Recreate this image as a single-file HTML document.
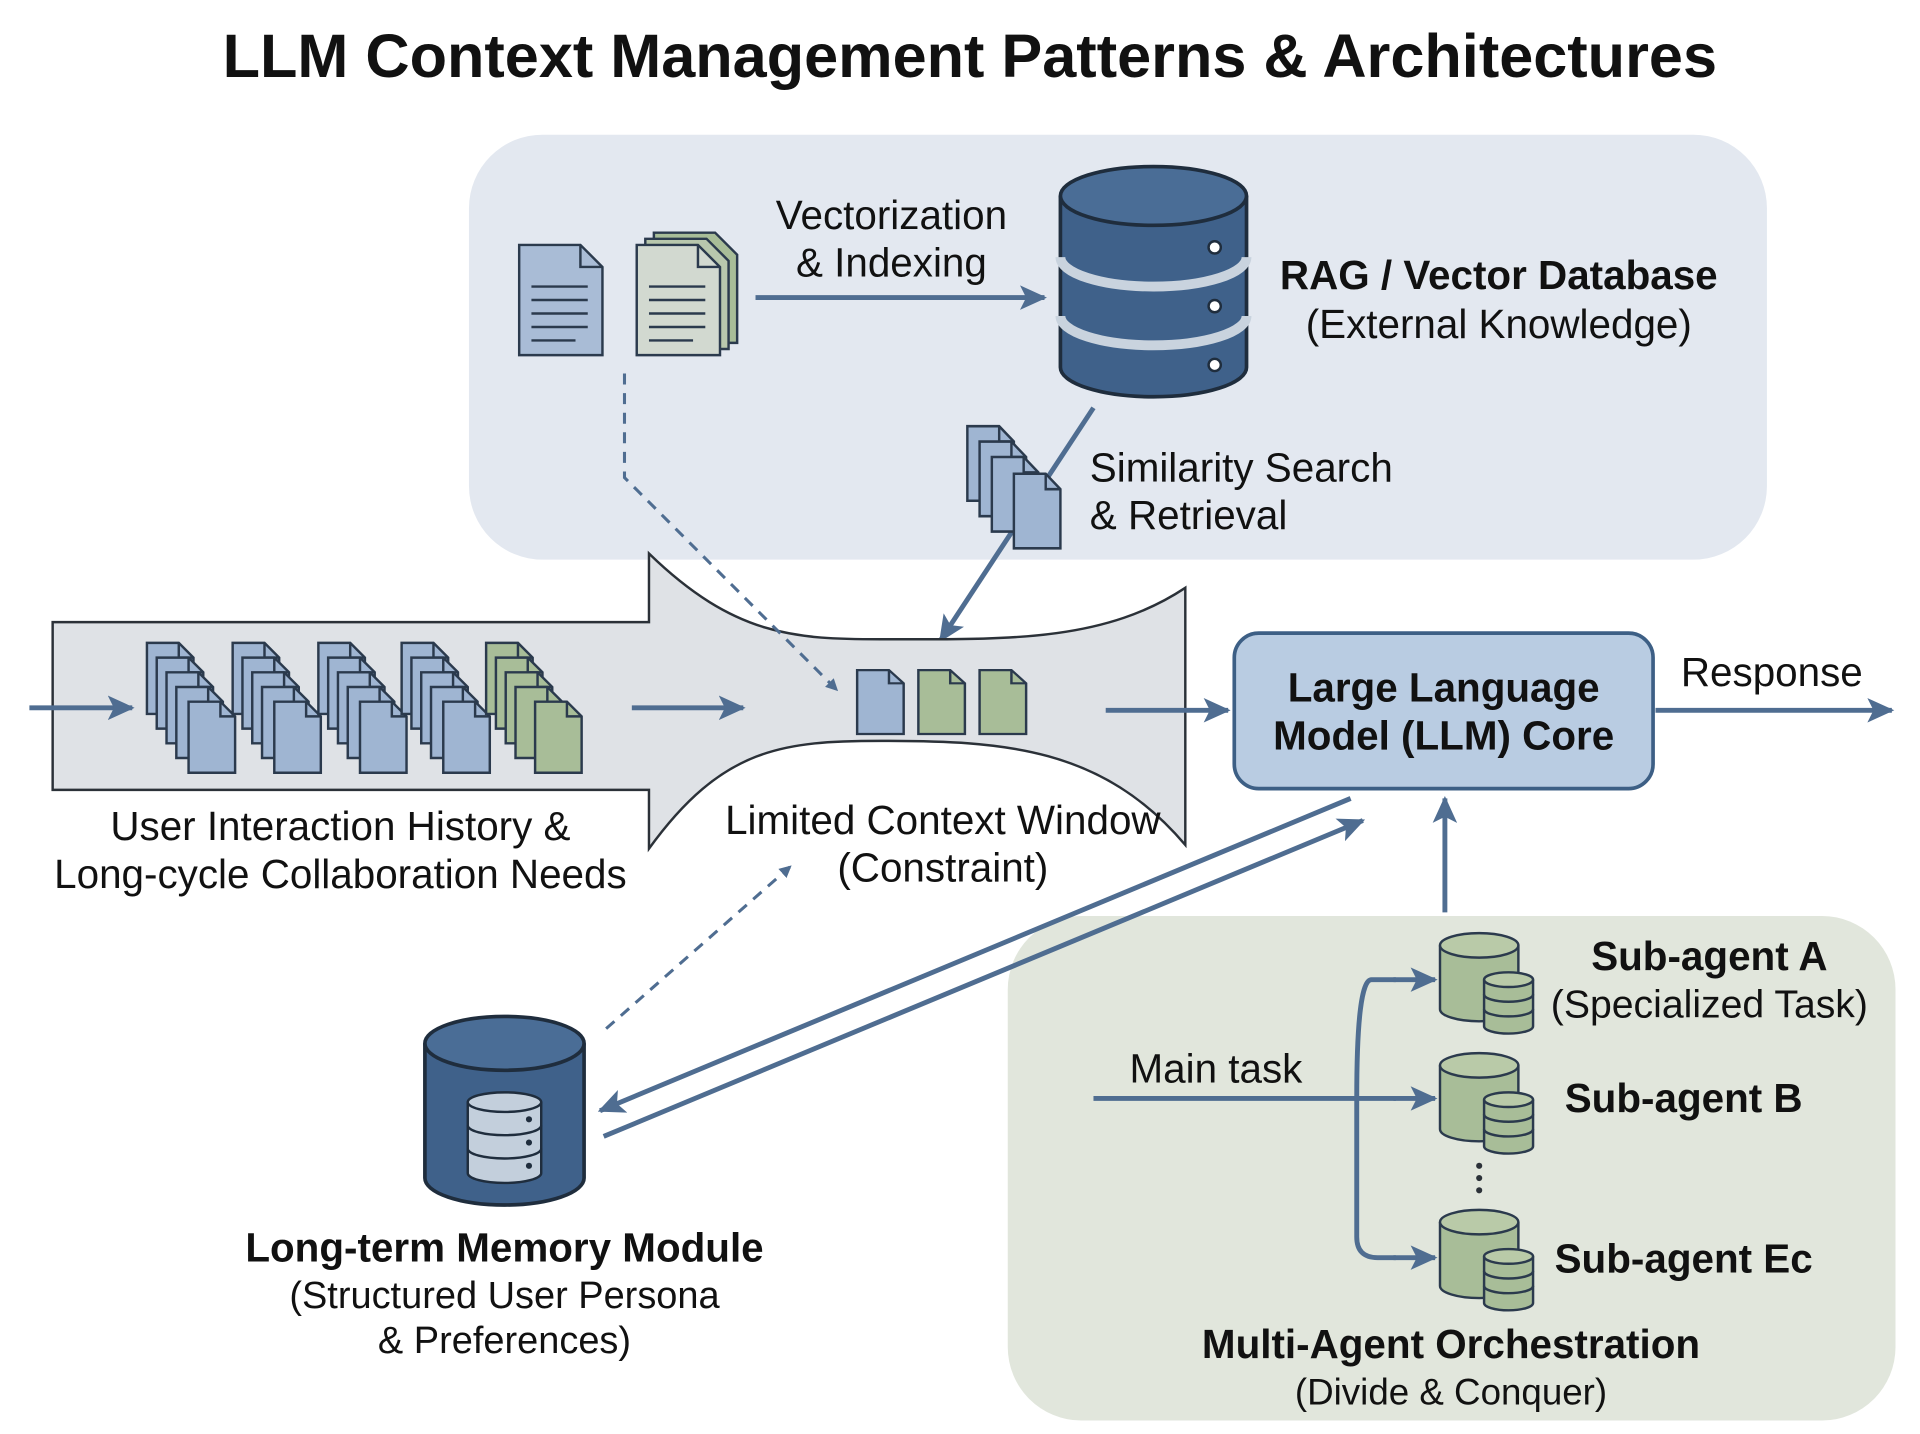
<!DOCTYPE html>
<html><head><meta charset="utf-8"><style>
html,body{margin:0;padding:0;background:#fff;width:1920px;height:1434px;overflow:hidden}
svg{display:block}
text{font-family:"Liberation Sans",sans-serif;fill:#111}
</style></head><body>
<svg width="1920" height="1434" viewBox="0 0 1568 1171" preserveAspectRatio="none" xmlns="http://www.w3.org/2000/svg">
<defs>
<marker id="ah" markerWidth="10" markerHeight="10" refX="8" refY="5" orient="auto" markerUnits="userSpaceOnUse"><path d="M0,0 L10,5 L0,10 Z" fill="#4f6d91"/></marker>
<marker id="ab" markerWidth="22" markerHeight="20" refX="20" refY="10" orient="auto" markerUnits="userSpaceOnUse"><path d="M0,0 L22,10 L0,20 L5,10 Z" fill="#4f6d91"/></marker>
<g id="docB"><path d="M0,0 H26 L38,12 V58 H0 Z" fill="#9fb5d2" stroke="#2b3a4d" stroke-width="2"/><path d="M26,0 V12 H38" fill="none" stroke="#2b3a4d" stroke-width="2"/></g>
<g id="docG"><path d="M0,0 H26 L38,12 V58 H0 Z" fill="#a8bd98" stroke="#2b3a4d" stroke-width="2"/><path d="M26,0 V12 H38" fill="none" stroke="#2b3a4d" stroke-width="2"/></g>
<g id="stackB"><use href="#docB" x="0" y="0"/><use href="#docB" x="8" y="12"/><use href="#docB" x="16" y="24"/><use href="#docB" x="24" y="36"/><use href="#docB" x="34" y="48"/></g>
<g id="stackG"><use href="#docG" x="0" y="0"/><use href="#docG" x="8" y="12"/><use href="#docG" x="16" y="24"/><use href="#docG" x="24" y="36"/><use href="#docG" x="40" y="48"/></g>
<g id="minicyl">
<path d="M0,10 V62 A32,10 0 0 0 64,62 V10" fill="#a8bd98" stroke="#2b3a4d" stroke-width="2"/>
<ellipse cx="32" cy="10" rx="32" ry="10" fill="#b9caa8" stroke="#2b3a4d" stroke-width="2"/>
<path d="M36,38 V76 A20,6 0 0 0 76,76 V38" fill="#a8bd98" stroke="#2b3a4d" stroke-width="2"/>
<ellipse cx="56" cy="38" rx="20" ry="6" fill="#b9caa8" stroke="#2b3a4d" stroke-width="2"/>
<path d="M36,50 A20,6 0 0 0 76,50 M36,62 A20,6 0 0 0 76,62" fill="none" stroke="#2b3a4d" stroke-width="2"/>
</g>
</defs>

<text x="792" y="63" font-size="50" font-weight="bold" text-anchor="middle">LLM Context Management Patterns &amp; Architectures</text>

<rect x="383" y="110" width="1060" height="347" rx="60" fill="#e3e8f0"/>
<path d="M424,200 H474 L492,218 V290 H424 Z" fill="#a9bcd6" stroke="#2b3a4d" stroke-width="2"/>
<path d="M474,200 V218 H492" fill="none" stroke="#2b3a4d" stroke-width="2"/>
<g stroke="#2b3a4d" stroke-width="2"><line x1="434" y1="234" x2="480" y2="234"/><line x1="434" y1="245" x2="480" y2="245"/><line x1="434" y1="256" x2="480" y2="256"/><line x1="434" y1="267" x2="480" y2="267"/><line x1="434" y1="278" x2="470" y2="278"/></g>
<path d="M534,190 H584 L602,208 V280 H534 Z" fill="#a8bd98" stroke="#2b3a4d" stroke-width="2"/>
<path d="M527,195 H577 L595,213 V285 H527 Z" fill="#b8c7ad" stroke="#2b3a4d" stroke-width="2"/>
<path d="M520,200 H570 L588,218 V290 H520 Z" fill="#d2d9d0" stroke="#2b3a4d" stroke-width="2"/>
<path d="M570,200 V218 H588" fill="none" stroke="#2b3a4d" stroke-width="2"/>
<g stroke="#2b3a4d" stroke-width="2"><line x1="530" y1="234" x2="576" y2="234"/><line x1="530" y1="245" x2="576" y2="245"/><line x1="530" y1="256" x2="576" y2="256"/><line x1="530" y1="267" x2="576" y2="267"/><line x1="530" y1="278" x2="566" y2="278"/></g>

<text x="728" y="187" font-size="33" text-anchor="middle">Vectorization</text>
<text x="728" y="226" font-size="33" text-anchor="middle">&amp; Indexing</text>
<line x1="617" y1="243" x2="853" y2="243" stroke="#4f6d91" stroke-width="4" marker-end="url(#ab)"/>

<g stroke="#1f2d3d" stroke-width="3">
<path d="M866,160 V300 A76,24 0 0 0 1018,300 V160" fill="#3f618a"/>
<ellipse cx="942" cy="160" rx="76" ry="24" fill="#4a6d96"/>
<path d="M866,210 A76,24 0 0 0 1018,210" fill="none" stroke="#c9d3de" stroke-width="8"/>
<path d="M866,258 A76,24 0 0 0 1018,258" fill="none" stroke="#c9d3de" stroke-width="8"/>
</g>
<circle cx="992" cy="202" r="5" fill="#fff" stroke="#1f2d3d" stroke-width="2"/>
<circle cx="992" cy="250" r="5" fill="#fff" stroke="#1f2d3d" stroke-width="2"/>
<circle cx="992" cy="298" r="5" fill="#fff" stroke="#1f2d3d" stroke-width="2"/>
<text x="1224" y="236" font-size="33" font-weight="bold" text-anchor="middle">RAG / Vector Database</text>
<text x="1224" y="276" font-size="33" text-anchor="middle">(External Knowledge)</text>

<line x1="893" y1="333" x2="768" y2="523" stroke="#4f6d91" stroke-width="4" marker-end="url(#ab)"/>
<g transform="translate(790,348) scale(1.0,1.05)"><use href="#docB"/><use href="#docB" x="10" y="12"/><use href="#docB" x="20" y="24"/><use href="#docB" x="38" y="37"/></g>
<text x="890" y="393" font-size="33">Similarity Search</text>
<text x="890" y="432" font-size="33">&amp; Retrieval</text>

<path d="M43,508 H530 V452 C600,520 650,522 720,522 C820,522 900,525 968,480 V690 C900,610 820,605 720,605 C640,605 590,610 530,693 V645 H43 Z" fill="#dfe2e6" stroke="#2b3138" stroke-width="2"/>
<polyline points="510,305 510,390 683,563" fill="none" stroke="#4f6d91" stroke-width="2.5" stroke-dasharray="9,7" marker-end="url(#ah)"/>
<line x1="24" y1="578" x2="108" y2="578" stroke="#4f6d91" stroke-width="4" marker-end="url(#ab)"/>
<use href="#stackB" x="120" y="525"/>
<use href="#stackB" x="190" y="525"/>
<use href="#stackB" x="260" y="525"/>
<use href="#stackB" x="328" y="525"/>
<use href="#stackG" x="397" y="525"/>
<line x1="516" y1="578" x2="607" y2="578" stroke="#4f6d91" stroke-width="4" marker-end="url(#ab)"/>
<use href="#docB" x="700" y="547" transform="scale(1,0.9) translate(0,61)"/>
<use href="#docG" x="750" y="547" transform="scale(1,0.9) translate(0,61)"/>
<use href="#docG" x="800" y="547" transform="scale(1,0.9) translate(0,61)"/>
<line x1="903" y1="580" x2="1003" y2="580" stroke="#4f6d91" stroke-width="4" marker-end="url(#ab)"/>
<text x="278" y="686" font-size="33" text-anchor="middle">User Interaction History &amp;</text>
<text x="278" y="725" font-size="33" text-anchor="middle">Long-cycle Collaboration Needs</text>
<text x="770" y="681" font-size="33" text-anchor="middle">Limited Context Window</text>
<text x="770" y="720" font-size="33" text-anchor="middle">(Constraint)</text>

<rect x="1008" y="517" width="342" height="127" rx="20" fill="#b9cce2" stroke="#3d5f85" stroke-width="3"/>
<text x="1179" y="573" font-size="33" font-weight="bold" text-anchor="middle">Large Language</text>
<text x="1179" y="612" font-size="33" font-weight="bold" text-anchor="middle">Model (LLM) Core</text>
<line x1="1352" y1="580" x2="1545" y2="580" stroke="#4f6d91" stroke-width="4" marker-end="url(#ab)"/>
<text x="1447" y="560" font-size="33" text-anchor="middle">Response</text>

<rect x="823" y="748" width="725" height="412" rx="60" fill="#e1e6dc"/>
<line x1="1180" y1="745" x2="1180" y2="652" stroke="#4f6d91" stroke-width="4" marker-end="url(#ab)"/>
<path d="M893,897 H1108 M1108,897 Q1108,800 1120,800 H1140 M1108,897 H1140 M1108,897 V1010 Q1108,1027 1125,1027 H1140" fill="none" stroke="#4f6d91" stroke-width="4"/>
<line x1="1138" y1="800" x2="1172" y2="800" stroke="#4f6d91" stroke-width="4" marker-end="url(#ab)"/>
<line x1="1138" y1="897" x2="1172" y2="897" stroke="#4f6d91" stroke-width="4" marker-end="url(#ab)"/>
<line x1="1138" y1="1027" x2="1172" y2="1027" stroke="#4f6d91" stroke-width="4" marker-end="url(#ab)"/>
<text x="993" y="884" font-size="33" text-anchor="middle">Main task</text>
<use href="#minicyl" x="1176" y="762"/>
<use href="#minicyl" x="1176" y="860"/>
<use href="#minicyl" x="1176" y="988"/>
<g fill="#2b3138"><circle cx="1208" cy="952" r="2.5"/><circle cx="1208" cy="962" r="2.5"/><circle cx="1208" cy="972" r="2.5"/></g>
<text x="1396" y="792" font-size="33" font-weight="bold" text-anchor="middle">Sub-agent A</text>
<text x="1396" y="831" font-size="32" text-anchor="middle">(Specialized Task)</text>
<text x="1375" y="908" font-size="33" font-weight="bold" text-anchor="middle">Sub-agent B</text>
<text x="1375" y="1039" font-size="33" font-weight="bold" text-anchor="middle">Sub-agent Ec</text>
<text x="1185" y="1109" font-size="33" font-weight="bold" text-anchor="middle">Multi-Agent Orchestration</text>
<text x="1185" y="1147" font-size="30" text-anchor="middle">(Divide &amp; Conquer)</text>

<line x1="1103" y1="652" x2="490" y2="907" stroke="#4f6d91" stroke-width="4" marker-end="url(#ab)"/>
<line x1="493" y1="928" x2="1113" y2="670" stroke="#4f6d91" stroke-width="4" marker-end="url(#ab)"/>
<line x1="495" y1="840" x2="645" y2="708" stroke="#4f6d91" stroke-width="2.5" stroke-dasharray="9,7" marker-end="url(#ah)"/>
<g stroke="#1f2d3d" stroke-width="3">
<path d="M347,852 V962 A65,22 0 0 0 477,962 V852" fill="#3f618a"/>
<ellipse cx="412" cy="852" rx="65" ry="22" fill="#4a6d96"/>
</g>
<g stroke="#1f2d3d" stroke-width="2" fill="#c3cfdc">
<path d="M382,900 V958 A30,8 0 0 0 442,958 V900"/>
<ellipse cx="412" cy="900" rx="30" ry="8"/>
<path d="M382,919 A30,8 0 0 0 442,919 M382,938 A30,8 0 0 0 442,938" fill="none"/>
</g>
<g fill="#1f2d3d"><circle cx="432" cy="914" r="2.5"/><circle cx="432" cy="933" r="2.5"/><circle cx="432" cy="952" r="2.5"/></g>
<text x="412" y="1030" font-size="33" font-weight="bold" text-anchor="middle">Long-term Memory Module</text>
<text x="412" y="1068" font-size="31" text-anchor="middle">(Structured User Persona</text>
<text x="412" y="1105" font-size="31" text-anchor="middle">&amp; Preferences)</text>
</svg>
</body></html>
